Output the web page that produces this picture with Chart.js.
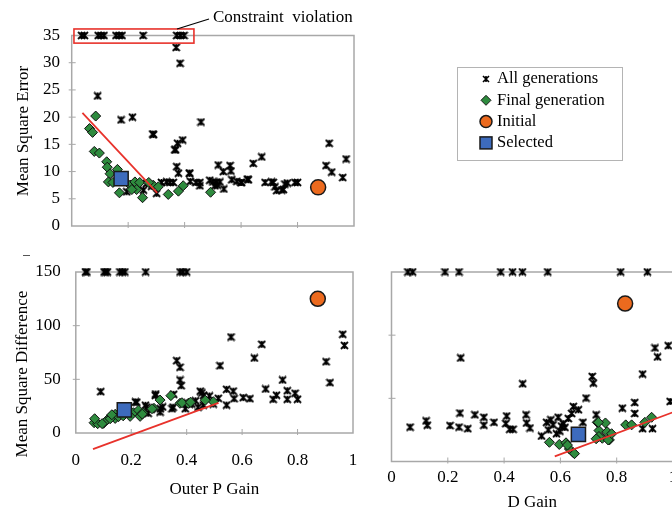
<!DOCTYPE html>
<html>
<head>
<meta charset="utf-8">
<script src="https://cdn.jsdelivr.net/npm/chart.js@4.4.1/dist/chart.umd.min.js"></script>
<style>
  html, body { margin: 0; padding: 0; background: #fff; }
  body { width: 672px; height: 510px; position: relative; overflow: hidden; font-family: "Liberation Serif", serif; }
  canvas { position: absolute; display: block; }
  .ytitle { position: absolute; font-size: 17px; white-space: nowrap; color: #000;
            transform: translate(-50%, -50%) rotate(-90deg); }
</style>
</head>
<body>
<canvas id="errChart" width="672" height="245" style="left:0;top:0"></canvas>
<canvas id="diffChart" width="360" height="280" style="left:0;top:245px"></canvas>
<canvas id="dChart" width="320" height="280" style="left:360px;top:245px"></canvas>
<div class="ytitle" style="left:23px;top:131px">Mean Square Error</div>
<div class="ytitle" style="left:22px;top:374px">Mean Square Difference</div>
<div style="position:absolute;left:23px;top:255px;width:7px;height:1px;background:#555"></div>

<script>
// --- top panel: outer P gain vs mean square error ---
const errAllGain  = [0.370, 0.384, 0.092, 0.175, 0.215, 0.287, 0.458, 0.368, 0.375, 0.393, 0.372, 0.378, 0.417,
                     0.519, 0.561, 0.564, 0.643, 0.673, 0.912, 0.901, 0.921, 0.972, 0.960, 0.622, 0.599, 0.585,
                     0.539, 0.525, 0.512, 0.489, 0.454, 0.440, 0.420, 0.336, 0.318, 0.301, 0.348, 0.360, 0.454,
                     0.507, 0.685, 0.708, 0.720, 0.726, 0.750, 0.764, 0.791, 0.800, 0.265, 0.195, 0.254, 0.283,
                     0.218, 0.567, 0.602, 0.714, 0.744, 0.755, 0.537, 0.500, 0.516, 0.290, 0.365, 0.418, 0.626];
const errAllValue = [32.8, 29.9, 23.9, 19.5, 20.0, 16.9, 19.1, 14.0, 15.2, 15.8, 10.9, 9.7, 9.7,
                     11.2, 11.1, 10.1, 11.5, 12.7, 15.2, 11.1, 9.9, 12.3, 8.9, 8.6, 8.0, 8.2,
                     6.8, 8.1, 8.0, 8.4, 8.0, 8.0, 8.2, 8.1, 8.0, 6.0, 8.0, 8.0, 7.4,
                     7.4, 8.0, 8.1, 7.2, 6.5, 6.7, 7.9, 8.0, 8.0, 7.8, 6.3, 6.6, 7.3,
                     7.7, 8.5, 8.0, 8.0, 6.6, 7.7, 10.0, 8.1, 7.5, 16.8, 14.0, 9.7, 8.5];
const errFinalGain  = [0.085, 0.063, 0.074, 0.080, 0.098, 0.124, 0.126, 0.162, 0.136, 0.130, 0.146, 0.169, 0.207,
                       0.224, 0.241, 0.230, 0.251, 0.289, 0.307, 0.342, 0.378, 0.395, 0.492, 0.213, 0.273, 0.184, 0.170];
const errFinalValue = [20.2, 17.9, 17.2, 13.7, 13.4, 11.8, 10.8, 10.4, 9.6, 8.1, 8.0, 6.1, 7.5,
                       8.1, 8.0, 6.7, 5.2, 7.5, 7.2, 5.8, 6.4, 7.4, 6.2, 6.7, 8.0, 8.4, 8.9];
const errViolGain  = [0.035, 0.045, 0.094, 0.104, 0.114, 0.157, 0.168, 0.178, 0.253, 0.372, 0.385, 0.398];
const errViolValue = [35, 35, 35, 35, 35, 35, 35, 35, 35, 35, 35, 35];
const errTrendGain  = [0.038, 0.303];
const errTrendValue = [20.8, 6.1];
const errViolBox = [0.008, 0.433, 33.6, 36.2];   // gain from/to, error from/to

// --- bottom left: outer P gain vs mean square difference ---
const diffAllGain  = [0.090, 0.364, 0.376, 0.376, 0.380, 0.520, 0.560, 0.644, 0.671, 0.685, 0.712, 0.724, 0.746,
                      0.763, 0.763, 0.791, 0.800, 0.903, 0.917, 0.963, 0.969, 0.568, 0.544, 0.571, 0.604, 0.628,
                      0.544, 0.514, 0.482, 0.455, 0.432, 0.402, 0.353, 0.288, 0.313, 0.351, 0.220, 0.256, 0.460,
                      0.441, 0.410, 0.496, 0.304, 0.261, 0.251, 0.287, 0.215, 0.305, 0.347, 0.395, 0.449, 0.461,
                      0.167, 0.418];
const diffAllValue = [38.5, 67.4, 61.2, 49.4, 44.1, 62.7, 89.4, 69.9, 82.6, 41.0, 31.4, 35.2, 49.4,
                      39.4, 31.4, 37.0, 31.4, 66.4, 46.9, 92.0, 81.6, 39.0, 40.7, 32.0, 33.0, 32.0,
                      26.0, 32.3, 34.5, 37.4, 30.0, 28.0, 36.0, 36.3, 24.3, 24.0, 28.6, 24.0, 26.0,
                      24.0, 27.0, 27.0, 19.5, 18.4, 25.8, 35.0, 28.9, 22.6, 22.6, 22.6, 38.9, 35.0,
                      22.6, 27.0];
const diffFinalGain  = [0.066, 0.079, 0.100, 0.114, 0.123, 0.142, 0.142, 0.154, 0.208, 0.226, 0.242, 0.282, 0.304,
                        0.343, 0.376, 0.406, 0.496, 0.171, 0.232, 0.196, 0.068, 0.095, 0.124, 0.130, 0.240, 0.275,
                        0.383, 0.414, 0.467];
const diffFinalValue = [9.6, 8.7, 9.0, 12.4, 14.6, 17.4, 13.6, 15.2, 18.9, 21.3, 18.9, 23.0, 30.7,
                        34.8, 27.7, 27.7, 29.2, 16.0, 15.5, 15.5, 13.3, 8.7, 13.3, 17.0, 17.6, 22.6,
                        28.2, 28.7, 30.5];
const diffViolGain  = [0.035, 0.040, 0.102, 0.108, 0.114, 0.159, 0.168, 0.177, 0.252, 0.376, 0.386, 0.400];
const diffViolValue = [150, 150, 150, 150, 150, 150, 150, 150, 150, 150, 150, 150];
const diffTrendGain  = [0.062, 0.515];
const diffTrendValue = [-15, 28];

// --- bottom right: D gain vs mean square difference ---
const dAllGain  = [0.066, 0.123, 0.127, 0.208, 0.240, 0.243, 0.246, 0.271, 0.296, 0.328, 0.328, 0.364, 0.409,
                   0.406, 0.420, 0.432, 0.466, 0.478, 0.480, 0.492, 0.533, 0.551, 0.574, 0.592, 0.598, 0.628,
                   0.646, 0.664, 0.680, 0.691, 0.713, 0.717, 0.727, 0.820, 0.864, 0.864, 0.892, 0.936, 0.945,
                   0.983, 0.990, 0.892, 0.927, 0.586, 0.616, 0.658, 0.557, 0.610, 0.640, 0.566, 0.604];
const dAllValue = [27.2, 32.2, 28.7, 28.4, 27.2, 38.3, 82.0, 26.0, 37.0, 35.0, 28.7, 31.0, 36.0,
                   30.0, 25.5, 25.5, 61.5, 37.0, 30.5, 26.5, 20.2, 31.0, 29.0, 35.0, 24.0, 34.0,
                   43.5, 41.0, 31.0, 50.2, 67.3, 62.0, 37.0, 42.2, 46.7, 38.0, 69.2, 89.9, 82.8,
                   91.7, 47.5, 26.0, 26.0, 22.0, 27.0, 24.0, 25.0, 30.0, 38.0, 33.0, 28.0];
const dFinalGain  = [0.561, 0.596, 0.620, 0.632, 0.646, 0.731, 0.737, 0.760, 0.766, 0.774, 0.749, 0.782, 0.737,
                     0.832, 0.853, 0.900, 0.924, 0.625, 0.650, 0.727, 0.735, 0.770];
const dFinalValue = [15.2, 13.5, 14.8, 9.9, 7.0, 31.0, 24.5, 30.5, 23.5, 17.1, 18.4, 22.0, 19.8,
                     29.0, 29.0, 31.0, 35.0, 13.0, 6.2, 18.0, 31.0, 17.0];
const dViolGain  = [0.058, 0.075, 0.190, 0.240, 0.388, 0.430, 0.465, 0.555, 0.814, 0.909];
const dViolValue = [150, 150, 150, 150, 150, 150, 150, 150, 150, 150];
const dTrendGain  = [0.580, 1.000];
const dTrendValue = [4.1, 39.0];

// initial and selected controller
const initOuterP = 0.873, initD = 0.830, initErr = 7.1, initDiff = 125;
const selOuterP = 0.175, selD = 0.664, selErr = 8.7, selDiff = 21.5;

const legendLabels = ['All generations', 'Final generation', 'Initial', 'Selected'];

const serif = "'Liberation Serif', 'Times New Roman', serif";
const GREEN = '#2e8b3e', ORANGE = '#ec6a1e', BLUE = '#3d6bbd', RED = '#e8322b';

// asterisk marker used for every evaluated individual
function starMark(size, lw) {
  const c = document.createElement('canvas');
  c.width = size; c.height = size;
  const g = c.getContext('2d');
  g.strokeStyle = '#000';
  g.lineWidth = lw;
  const a = 1, b = size - 1, m = size / 2;
  g.beginPath();
  g.moveTo(a, a); g.lineTo(b, b);
  g.moveTo(b, a); g.lineTo(a, b);
  g.moveTo(m, a); g.lineTo(m, b);
  g.stroke();
  return c;
}
const star = starMark(9, 1.8);
const starSmall = starMark(8, 1.6);

const pts = (xs, ys) => xs.map((x, i) => ({ x: x, y: ys[i] }));

function makeDatasets(allX, allY, finX, finY, violX, violY, trendX, trendY, init, sel) {
  // first dataset ends up on top
  return [
    { data: [sel], pointStyle: 'rect', pointRadius: 10, backgroundColor: BLUE,
      borderColor: '#1a1a1a', borderWidth: 1.5, clip: false },
    { data: [init], pointStyle: 'circle', pointRadius: 7.5, backgroundColor: ORANGE,
      borderColor: '#1a1a1a', borderWidth: 1.5, clip: false },
    { data: pts(trendX, trendY), showLine: true, borderColor: RED, borderWidth: 1.8,
      pointRadius: 0, clip: false },
    { data: pts(finX, finY), pointStyle: 'rectRot', pointRadius: 5, backgroundColor: GREEN,
      borderColor: '#111', borderWidth: 1, clip: false },
    { data: pts(allX, allY), pointStyle: star, pointRadius: 4.5, clip: false },
    { data: pts(violX, violY), pointStyle: star, pointRadius: 4.5, clip: false }
  ];
}

// grey box round the plot with short tick marks
const framePlugin = {
  id: 'frame',
  beforeDatasetsDraw(chart) {
    const { ctx, chartArea: a, scales: { x, y } } = chart;
    ctx.save();
    ctx.strokeStyle = '#a8a8a8';
    ctx.lineWidth = 1.5;
    ctx.strokeRect(a.left, a.top, a.right - a.left, a.bottom - a.top);
    ctx.lineWidth = 1;
    ctx.beginPath();
    x.ticks.forEach(t => {
      if (t.value > x.min + 1e-6 && t.value < x.max - 1e-6) {
        const px = x.getPixelForValue(t.value);
        ctx.moveTo(px, a.bottom - 4); ctx.lineTo(px, a.bottom + 2);
      }
    });
    y.ticks.forEach(t => {
      if (t.value > y.min + 1e-6 && t.value < y.max - 1e-6) {
        const py = y.getPixelForValue(t.value);
        ctx.moveTo(a.left - 3, py); ctx.lineTo(a.left + 4, py);
      }
    });
    ctx.stroke();
    ctx.restore();
  }
};

function drawMarker(ctx, kind, cx, cy) {
  ctx.save();
  ctx.strokeStyle = '#1a1a1a';
  if (kind === 0) {
    ctx.drawImage(starSmall, cx - 4, cy - 4);
  } else if (kind === 1) {
    ctx.fillStyle = GREEN; ctx.lineWidth = 1;
    ctx.beginPath();
    ctx.moveTo(cx, cy - 5); ctx.lineTo(cx + 5, cy); ctx.lineTo(cx, cy + 5); ctx.lineTo(cx - 5, cy);
    ctx.closePath(); ctx.fill(); ctx.stroke();
  } else if (kind === 2) {
    ctx.fillStyle = ORANGE; ctx.lineWidth = 1.5;
    ctx.beginPath(); ctx.arc(cx, cy, 6, 0, Math.PI * 2); ctx.fill(); ctx.stroke();
  } else {
    ctx.fillStyle = BLUE; ctx.lineWidth = 1.5;
    ctx.fillRect(cx - 6, cy - 6, 12, 12); ctx.strokeRect(cx - 6, cy - 6, 12, 12);
  }
  ctx.restore();
}

// constraint-violation callout and the legend box for the top panel
const topNotes = {
  id: 'topNotes',
  afterDatasetsDraw(chart) {
    const { ctx, scales: { x, y } } = chart;
    const l = x.getPixelForValue(errViolBox[0]), r = x.getPixelForValue(errViolBox[1]);
    const t = y.getPixelForValue(errViolBox[3]), b = y.getPixelForValue(errViolBox[2]);
    ctx.save();
    ctx.strokeStyle = RED;
    ctx.lineWidth = 1.6;
    ctx.strokeRect(l, t, r - l, b - t);
    ctx.strokeStyle = '#000';
    ctx.lineWidth = 1.2;
    ctx.beginPath();
    ctx.moveTo(x.getPixelForValue(0.373), t);
    ctx.lineTo(209, 19);
    ctx.stroke();
    ctx.fillStyle = '#000';
    ctx.font = '17px ' + serif;
    ctx.textBaseline = 'middle';
    ctx.fillText('Constraint  violation', 213, 18);

    // legend
    ctx.strokeStyle = '#b4b4b4';
    ctx.lineWidth = 1;
    ctx.strokeRect(457.5, 67.5, 165, 93);
    ctx.font = '16.5px ' + serif;
    legendLabels.forEach((lab, i) => {
      const cy = 79 + i * 21.3;
      drawMarker(ctx, i, 486, cy);
      ctx.fillStyle = '#000';
      ctx.fillText(lab, 497, cy);
    });
    ctx.restore();
  }
};

const tickFont = { family: serif, size: 17 };
const plainNum = v => String(Math.round(v * 10) / 10);

function axisX(height, showLabels, pad, title, titlePad) {
  return {
    type: 'linear', min: 0, max: 1,
    grid: { display: false, drawTicks: false },
    border: { display: false },
    ticks: { display: showLabels, stepSize: 0.2, padding: pad, font: tickFont, color: '#000',
             autoSkip: false, maxRotation: 0, callback: plainNum },
    title: { display: !!title, text: title || '', font: tickFont, color: '#000',
             padding: { top: 0, bottom: titlePad || 0 } },
    afterFit: s => { s.height = height; s.paddingLeft = 0; s.paddingRight = 0; }
  };
}

function axisY(width, max, step, showLabels, pad) {
  return {
    type: 'linear', min: 0, max: max,
    grid: { display: false, drawTicks: false },
    border: { display: false },
    ticks: { display: showLabels, stepSize: step, padding: pad, font: tickFont, color: '#000' },
    afterFit: s => { s.width = width; s.paddingTop = 0; s.paddingBottom = 0; }
  };
}

const common = {
  responsive: false,
  animation: false,
  events: [],
  plugins: { legend: { display: false }, tooltip: { enabled: false } }
};

new Chart(document.getElementById('errChart'), {
  type: 'scatter',
  data: {
    datasets: makeDatasets(errAllGain, errAllValue, errFinalGain, errFinalValue,
                           errViolGain, errViolValue, errTrendGain, errTrendValue,
                           { x: initOuterP, y: initErr }, { x: selOuterP, y: selErr })
  },
  options: Object.assign({}, common, {
    layout: { autoPadding: false, padding: { top: 35.5, right: 318, bottom: 0, left: 0 } },
    scales: { x: axisX(19, false, 0), y: axisY(71.7, 35, 5, true, 11.7) }
  }),
  plugins: [framePlugin, topNotes]
});

new Chart(document.getElementById('diffChart'), {
  type: 'scatter',
  data: {
    datasets: makeDatasets(diffAllGain, diffAllValue, diffFinalGain, diffFinalValue,
                           diffViolGain, diffViolValue, diffTrendGain, diffTrendValue,
                           { x: initOuterP, y: initDiff }, { x: selOuterP, y: selDiff })
  },
  options: Object.assign({}, common, {
    layout: { autoPadding: false, padding: { top: 27, right: 7, bottom: 0, left: 0 } },
    scales: { x: axisX(92, true, 17, 'Outer P Gain', 25), y: axisY(75.8, 150, 50, true, 15) }
  }),
  plugins: [framePlugin]
});

new Chart(document.getElementById('dChart'), {
  type: 'scatter',
  data: {
    datasets: makeDatasets(dAllGain, dAllValue, dFinalGain, dFinalValue,
                           dViolGain, dViolValue, dTrendGain, dTrendValue,
                           { x: initD, y: initDiff }, { x: selD, y: selDiff })
  },
  options: Object.assign({}, common, {
    layout: { autoPadding: false, padding: { top: 27, right: 7, bottom: 0, left: 0 } },
    scales: { x: axisX(63.5, true, 6.3, 'D Gain', 12), y: axisY(31.5, 150, 50, false, 0) }
  }),
  plugins: [framePlugin]
});
</script>
</body>
</html>
